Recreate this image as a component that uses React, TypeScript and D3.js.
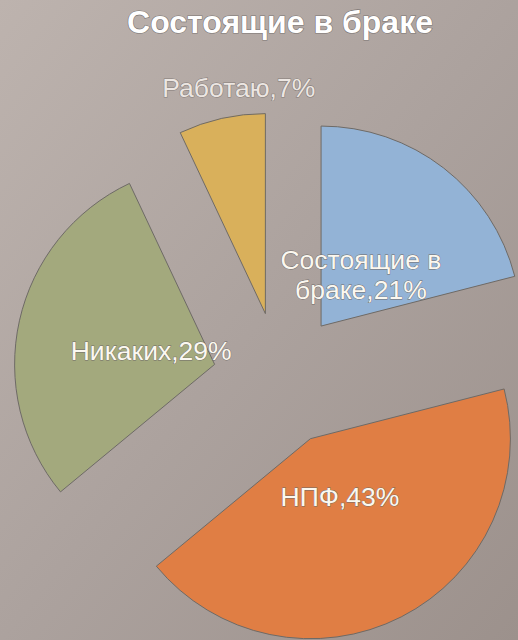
import React from "react";
import * as d3 from "d3";

const categories = ["Состоящие в браке", "НПФ", "Никаких", "Работаю"];
const values = [21, 43, 29, 7];
const labelLines = [["Состоящие в", "браке,21%"], ["НПФ,43%"], ["Никаких,29%"], ["Работаю,7%"]];
const colors = ["#93b3d6", "#e07e44", "#a3a97d", "#d9b05b"];
const title = "Состоящие в браке";

const W = 518;
const H = 640;

export default function App() {
  const cx = 280;
  const cy = 379;
  const r = 200;
  const explode = 67;
  const pie = d3.pie<number>().sort(null).value((d) => d);
  const arcs = pie(values);
  const arcGen = d3.arc<d3.PieArcDatum<number>>().innerRadius(0).outerRadius(r);

  return (
    <svg width={W} height={H} style={{ position: "fixed", left: 0, top: 0 }} fontFamily="'Liberation Sans', Arial, sans-serif">
      <defs>
        <linearGradient id="bg" x1="0" y1="0" x2="1" y2="1">
          <stop offset="0" stopColor="#bdb3ae" />
          <stop offset="0.5" stopColor="#aca29e" />
          <stop offset="1" stopColor="#9c918c" />
        </linearGradient>
      </defs>
      <rect width={W} height={H} fill="url(#bg)" />
      <text
        x={cx}
        y={33}
        textAnchor="middle"
        fontSize={32}
        fontWeight="bold"
        fill="#ffffff"
        stroke="#7a7472"
        strokeWidth={1.2}
        style={{ paintOrder: "stroke" }}
      >
        {title}
      </text>
      {arcs.map((a, i) => {
        const mid = (a.startAngle + a.endAngle) / 2;
        const dx = Math.sin(mid) * explode;
        const dy = -Math.cos(mid) * explode;
        const ox = cx + dx;
        const oy = cy + dy;
        return (
          <g key={categories[i]}>
            <path
              d={arcGen(a) || ""}
              transform={`translate(${ox},${oy})`}
              fill={colors[i]}
              stroke="#6e6a66"
              strokeWidth={1}
            />
          </g>
        );
      })}
      {arcs.map((a, i) => {
        const mid = (a.startAngle + a.endAngle) / 2;
        const ox = cx + Math.sin(mid) * explode;
        const oy = cy - Math.cos(mid) * explode;
        const outside = values[i] < 10;
        const lr = outside ? 232 : 65;
        let lx = ox + Math.sin(mid) * lr;
        const ly = oy - Math.cos(mid) * lr;
        if (outside) lx += 24;
        const lines = labelLines[i];
        const lh = 30;
        const startY = ly - ((lines.length - 1) * lh) / 2 + 9.5;
        return (
          <text
            key={"l" + i}
            x={lx}
            textAnchor="middle"
            fontSize={26.5}
            fill={outside ? "#ece6e2" : "#fbf8f0"}
            stroke={outside ? "#847c78" : "#6f6a66"}
            strokeWidth={outside ? 1.1 : 0.8}
            style={{ paintOrder: "stroke" }}
          >
            {lines.map((ln, j) => (
              <tspan key={j} x={lx} y={startY + j * lh}>
                {ln}
              </tspan>
            ))}
          </text>
        );
      })}
    </svg>
  );
}
